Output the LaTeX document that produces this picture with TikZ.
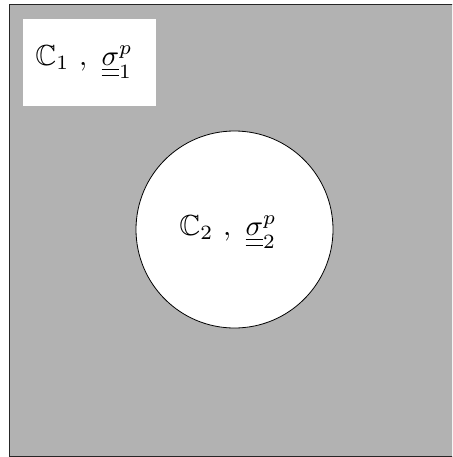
\documentclass[tikz,border=0pt]{standalone}
\usepackage{amssymb}
\begin{document}
\begin{tikzpicture}[x=1pt,y=-1pt,
  lab/.style={scale=2.9, inner sep=0pt}]
\useasboundingbox (0,0) rectangle (452,457);
\clip (0,0) rectangle (452,457);
\draw[fill=black!30, draw=black!85, line width=1pt] (9.5,4.5) rectangle (470,456.5);
\fill[white] (23,19) rectangle (156,106);
\draw[fill=white, draw=black, line width=0.8pt] (234.5,229.5) circle (98.5);
\node[lab] (t1) at (84,62) {$\mathbb{C}_1\ ,\ \underline{\underline{\sigma}}^p_1$};
\node[lab] (t2) at (228,232) {$\mathbb{C}_2\ ,\ \underline{\underline{\sigma}}^p_2$};
\end{tikzpicture}
\end{document}
